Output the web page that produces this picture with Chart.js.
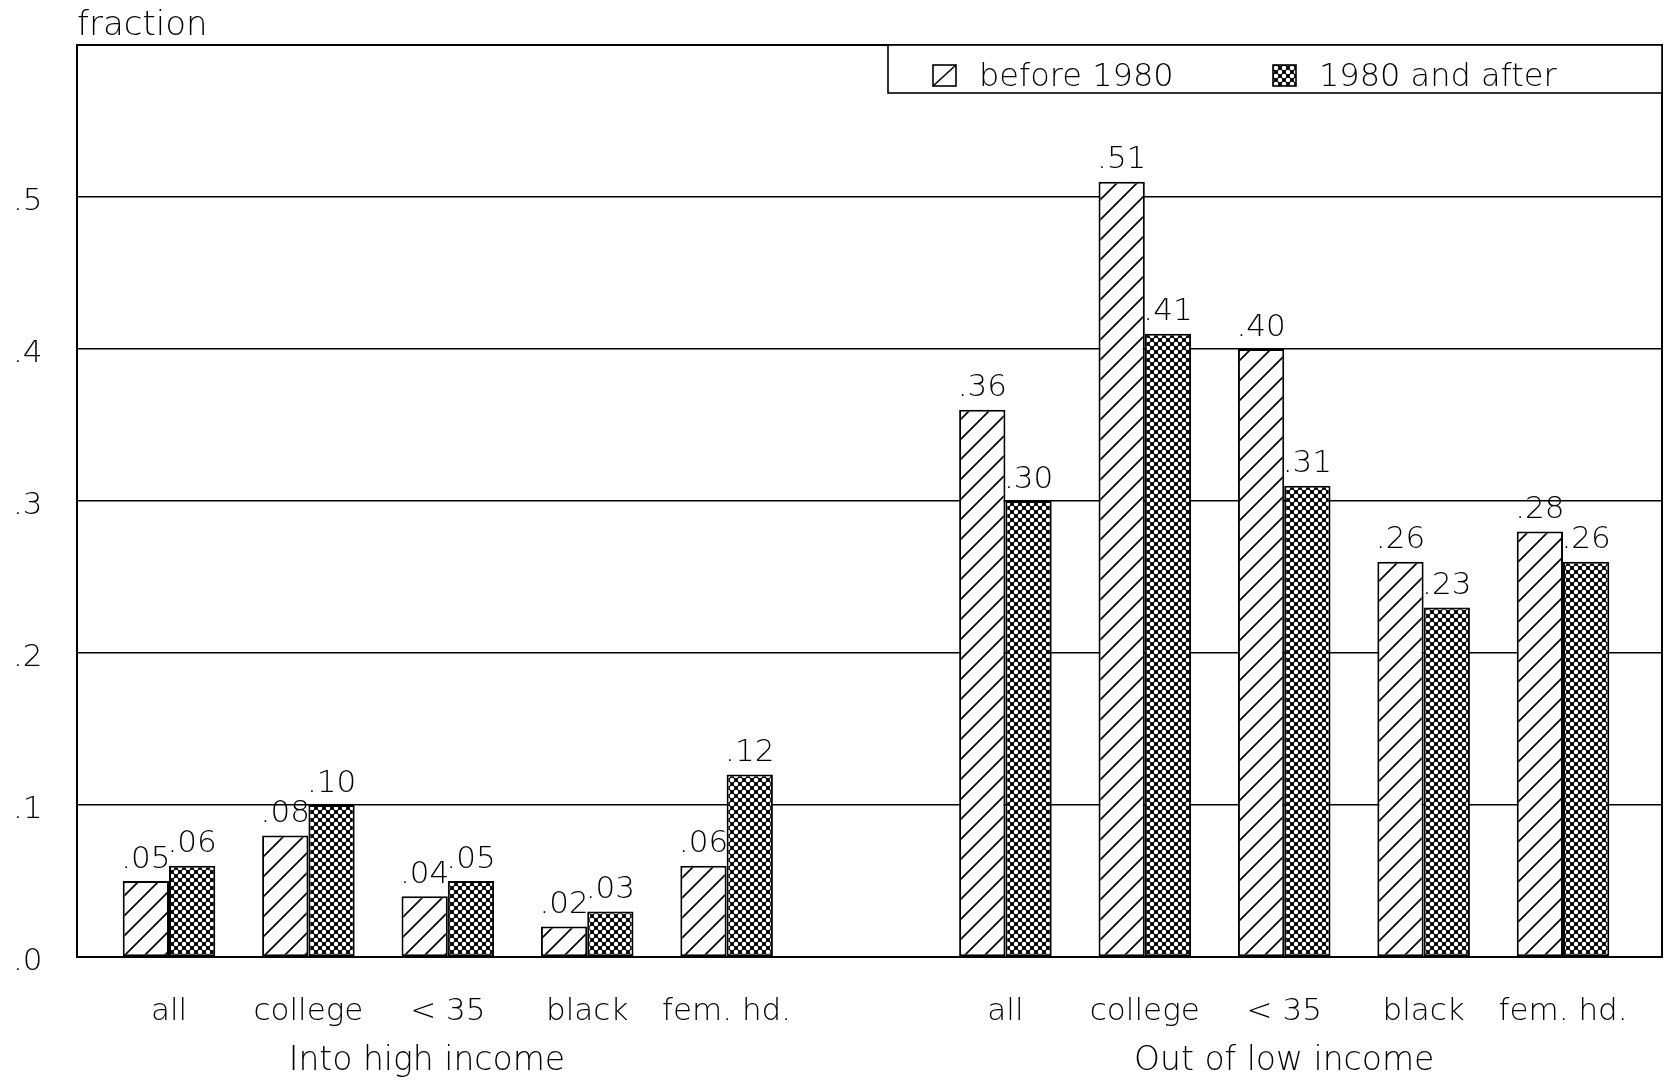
<!DOCTYPE html>
<html>
<head>
<meta charset="utf-8">
<script src="https://cdn.jsdelivr.net/npm/chart.js@4/dist/chart.umd.min.js"></script>
<style>
  html, body { margin: 0; padding: 0; background: #fff; }
  canvas { display: block; }
</style>
</head>
<body>
<canvas id="myChart" width="1668" height="1083"></canvas>
<script>
// data
const groupNames = ['Into high income', 'Out of low income'];
const categories = ['all', 'college', '< 35', 'black', 'fem. hd.'];
const slots = [0, 1, 2, 3, 4, 6, 7, 8, 9, 10];
const before1980 = [0.05, 0.08, 0.04, 0.02, 0.06, 0.36, 0.51, 0.40, 0.26, 0.28];
const after1980 = [0.06, 0.10, 0.05, 0.03, 0.12, 0.30, 0.41, 0.31, 0.23, 0.26];
const yTicks = [0, 0.1, 0.2, 0.3, 0.4, 0.5, 0.6];
const yTickLabels = ['.0', '.1', '.2', '.3', '.4', '.5', ''];
const seriesNames = ['before 1980', '1980 and after'];

const FONT = 'DejaVu Sans';

// patterns
const makeHatch = () => {
    var c = document.createElement('canvas');
    c.width = 20; c.height = 20;
    var g = c.getContext('2d');
    g.fillStyle = '#fff';
    g.fillRect(0, 0, 20, 20);
    g.strokeStyle = '#000';
    g.lineWidth = 1.7;
    g.beginPath();
    g.moveTo(-2, 22); g.lineTo(22, -2);
    g.moveTo(-2, 2); g.lineTo(2, -2);
    g.moveTo(18, 22); g.lineTo(22, 18);
    g.stroke();
    return c;
}

const makeCross = () => {
    var c = document.createElement('canvas');
    c.width = 8; c.height = 8;
    var g = c.getContext('2d');
    g.fillStyle = '#000';
    g.fillRect(0, 0, 8, 8);
    g.fillStyle = '#fff';
    [[4, 4], [0, 0], [8, 0], [0, 8], [8, 8]].forEach(p => {
        g.beginPath();
        g.arc(p[0], p[1], 2.3, 0, Math.PI * 2);
        g.fill();
    });
    return c;
}

const ctx = document.getElementById('myChart').getContext('2d');
const hatch = ctx.createPattern(makeHatch(), 'repeat');
const cross = ctx.createPattern(makeCross(), 'repeat');

const fmt = (v) => '.' + String(Math.round(v * 100)).padStart(2, '0');

// frame, value labels, group labels, legend, y title
const extras = {
    id: 'extras',
    afterDatasetsDraw(chart) {
        var c = chart.ctx;
        c.save();
        c.fillStyle = '#000';
        c.font = '200 31px "' + FONT + '"';
        c.textAlign = 'center';
        c.textBaseline = 'bottom';
        chart.data.datasets.forEach((ds, i) => {
            chart.getDatasetMeta(i).data.forEach((el, j) => {
                c.fillText(fmt(ds.data[j].y), el.x, el.y - 6);
            });
        });
        c.restore();
    },
    afterDraw(chart) {
        var c = chart.ctx;
        var a = chart.chartArea;
        var xs = chart.scales.x;
        c.save();
        c.strokeStyle = '#000';
        c.lineWidth = 2;
        c.strokeRect(a.left, a.top, a.right - a.left, a.bottom - a.top);

        c.fillStyle = '#000';
        c.textBaseline = 'middle';
        c.textAlign = 'center';
        c.font = '200 33px "' + FONT + '"';
        c.fillText(groupNames[0], xs.getPixelForValue(1.85), 1061);
        c.fillText(groupNames[1], xs.getPixelForValue(8), 1061);

        c.textAlign = 'left';
        c.textBaseline = 'alphabetic';
        c.font = '200 34px "' + FONT + '"';
        c.fillText('fraction', a.left, 35);

        // legend
        var lx = 888, ly = a.top, lw = a.right - lx, lh = 48;
        c.fillStyle = '#fff';
        c.fillRect(lx, ly, lw, lh);
        c.lineWidth = 1.6;
        c.strokeRect(lx, ly, lw, lh);
        c.fillStyle = '#fff';
        c.fillRect(933, 65, 23, 21);
        c.beginPath();
        c.moveTo(933, 86); c.lineTo(956, 65);
        c.stroke();
        c.strokeRect(933, 65, 23, 21);
        c.fillStyle = cross;
        c.fillRect(1273, 65, 23, 21);
        c.strokeRect(1273, 65, 23, 21);
        c.fillStyle = '#000';
        c.font = '200 32px "' + FONT + '"';
        c.textBaseline = 'middle';
        c.fillText(seriesNames[0], 979, 78);
        c.fillText(seriesNames[1], 1319, 78);
        c.restore();
    }
};

myChart = new Chart(ctx, {
    type: 'bar',
    data: {
        datasets: [{
            label: seriesNames[0],
            data: slots.map((x, i) => ({ x: x, y: before1980[i] })),
            backgroundColor: hatch,
            borderColor: '#000',
            borderWidth: 2,
            borderSkipped: false
        }, {
            label: seriesNames[1],
            data: slots.map((x, i) => ({ x: x, y: after1980[i] })),
            backgroundColor: cross,
            borderColor: '#000',
            borderWidth: 2,
            borderSkipped: false
        }]
    },
    options: {
        responsive: false,
        animation: false,
        devicePixelRatio: 1,
        categoryPercentage: 0.664,
        barPercentage: 1,
        layout: { padding: { left: 13, right: 6, top: 45, bottom: 0 } },
        plugins: {
            legend: { display: false },
            tooltip: { enabled: false }
        },
        scales: {
            x: {
                type: 'linear',
                offset: false,
                min: -0.66,
                max: 10.71,
                afterBuildTicks: (s) => { s.ticks = slots.map(v => ({ value: v })); },
                afterFit: (s) => { s.height = 126; },
                grid: { display: false, drawTicks: false, offset: false },
                border: { display: false },
                ticks: {
                    autoSkip: false,
                    maxRotation: 0,
                    padding: 36,
                    color: '#000',
                    font: { family: FONT, size: 31, weight: '200' },
                    callback: (v) => {
                        var i = slots.indexOf(v);
                        return i < 0 ? '' : categories[i % categories.length];
                    }
                }
            },
            y: {
                min: 0,
                max: 0.6,
                afterBuildTicks: (s) => { s.ticks = yTicks.map(v => ({ value: v })); },
                afterFit: (s) => { s.width = 64; },
                grid: { color: '#000', lineWidth: 1.5, drawTicks: false },
                border: { display: false },
                ticks: {
                    crossAlign: 'far',
                    padding: 10,
                    labelOffset: 5,
                    color: '#000',
                    font: { family: FONT, size: 31, weight: '200' },
                    callback: (v) => yTickLabels[yTicks.indexOf(v)] || ''
                }
            }
        }
    },
    plugins: [extras]
});
</script>
</body>
</html>
